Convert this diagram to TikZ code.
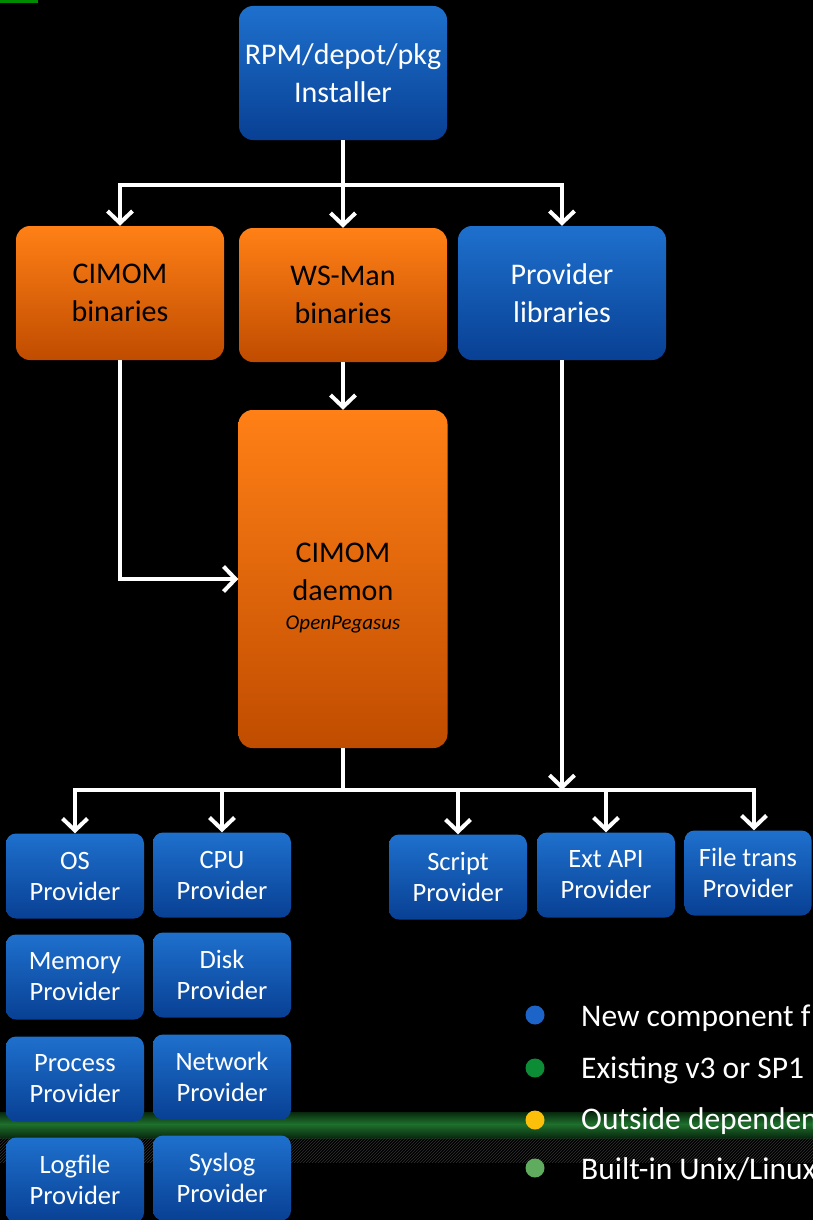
\documentclass[tikz,border=0pt]{standalone}
\usepackage{fontspec}
\setmainfont{Carlito}
\usetikzlibrary{arrows.meta,patterns}

\definecolor{bluetop}{RGB}{30,112,205}
\definecolor{bluebot}{RGB}{8,64,148}
\definecolor{orgtop}{RGB}{255,128,22}
\definecolor{orgbot}{RGB}{192,76,0}
\definecolor{bandgreen}{RGB}{30,112,44}
\definecolor{banddark}{RGB}{8,40,14}

\tikzset{
  box/.style={rounded corners=14pt, inner sep=0pt, align=center,
    font=\fontsize{30}{38}\selectfont},
  bluebox/.style={box, text=white, top color=bluetop, bottom color=bluebot},
  orangebox/.style={box, text=black, top color=orgtop, bottom color=orgbot},
  bigbox/.style={minimum width=208pt, minimum height=134pt},
  provbox/.style={bluebox, rounded corners=10pt, minimum width=138pt,
    minimum height=85pt, font=\fontsize{26.5}{31}\selectfont,
    execute at begin node={\rule{0pt}{30pt}}},
  wire/.style={draw=white, line width=4pt},
  conn/.style={wire, -{Straight Barb[length=12pt,width=25pt]}},
  legdot/.style={circle, inner sep=0pt, minimum size=19pt},
  legtext/.style={anchor=west, text=white, inner sep=0pt,
    font=\fontsize{31.5}{36}\selectfont},
}

\begin{document}
\begin{tikzpicture}[x=1pt, y=-1pt]
  % page and background
  \useasboundingbox (0,0) rectangle (813,1220);
  \fill[black] (0,0) rectangle (813,1220);
  \fill[green!55!black] (0,0) rectangle (38,3);
  % green band with hatching under it
  \shade[top color=banddark, bottom color=bandgreen] (0,1112) rectangle (813,1124);
  \shade[top color=bandgreen, bottom color=banddark] (0,1124) rectangle (813,1138);
  \fill[pattern=north east lines, pattern color=black!80!white] (0,1138) rectangle (813,1162);

  % installer and packages
  \node[bluebox, bigbox] (inst) at (343,73) {RPM/depot/pkg\\Installer};
  \node[orangebox, bigbox] (cimbin) at (120,293) {CIMOM\\binaries};
  \node[orangebox, bigbox] (wsman) at (343,295) {WS-Man\\binaries};
  \node[bluebox, bigbox] (provlib) at (562,293) {Provider\\libraries};

  % CIM server
  \node[orangebox, minimum width=209pt, minimum height=338pt] (daemon) at (343,579)
    {\rule{0pt}{38pt}CIMOM\\daemon\\[-9pt]{\fontsize{21}{24}\selectfont\itshape OpenPegasus}};

  % providers
  \node[provbox] (os) at (75,876) {OS\\Provider};
  \node[provbox] (cpu) at (222,875) {CPU\\Provider};
  \node[provbox] (mem) at (75,977) {Memory\\Provider};
  \node[provbox] (disk) at (222,975) {Disk\\Provider};
  \node[provbox] (proc) at (75,1079) {Process\\Provider};
  \node[provbox] (net) at (222,1077) {Network\\Provider};
  \node[provbox] (logf) at (75,1180) {Logfile\\Provider};
  \node[provbox] (sysl) at (222,1178) {Syslog\\Provider};
  \node[provbox] (script) at (458,877) {Script\\Provider};
  \node[provbox] (extapi) at (606,875) {Ext API\\Provider};
  \node[provbox, minimum width=127pt] (ftrans) at (748,873) {File trans\\Provider};

  % connectors
  \coordinate (fork1) at (343,185);
  \coordinate (fork2) at (343,790);
  \coordinate (join2) at (562,790);
  \draw[conn] (inst) -- (wsman);
  \draw[conn] (fork1) -| (cimbin);
  \draw[conn] (fork1) -| (provlib);
  \draw[conn] (wsman) -- (daemon);
  \draw[conn] (cimbin) |- (daemon);
  \draw[conn] (provlib) -- (join2);
  \draw[wire] (daemon) -- (fork2);
  \draw[conn] (fork2) -| (os);
  \draw[conn] (fork2) -| (cpu);
  \draw[conn] (fork2) -| (script);
  \draw[conn] (fork2) -| (extapi);
  \draw[conn] (fork2) -| ([xshift=6pt]ftrans.north);

  % legend
  \node[legdot, fill={rgb,255:red,28;green,100;blue,200}] (d1) at (535,1015) {};
  \node[legdot, fill={rgb,255:red,12;green,140;blue,52}] (d2) at (535,1068) {};
  \node[legdot, fill={rgb,255:red,252;green,192;blue,10}] (d3) at (535,1120) {};
  \node[legdot, fill={rgb,255:red,95;green,172;blue,95}] (d4) at (535,1168) {};
  \node[legtext] (l1) at (581,1018) {New component f};
  \node[legtext] (l2) at (581,1070) {Existing v3 or SP1};
  \node[legtext] (l3) at (581,1121) {Outside dependen};
  \node[legtext] (l4) at (581,1169) {Built-in Unix/Linux};
\end{tikzpicture}
\end{document}
